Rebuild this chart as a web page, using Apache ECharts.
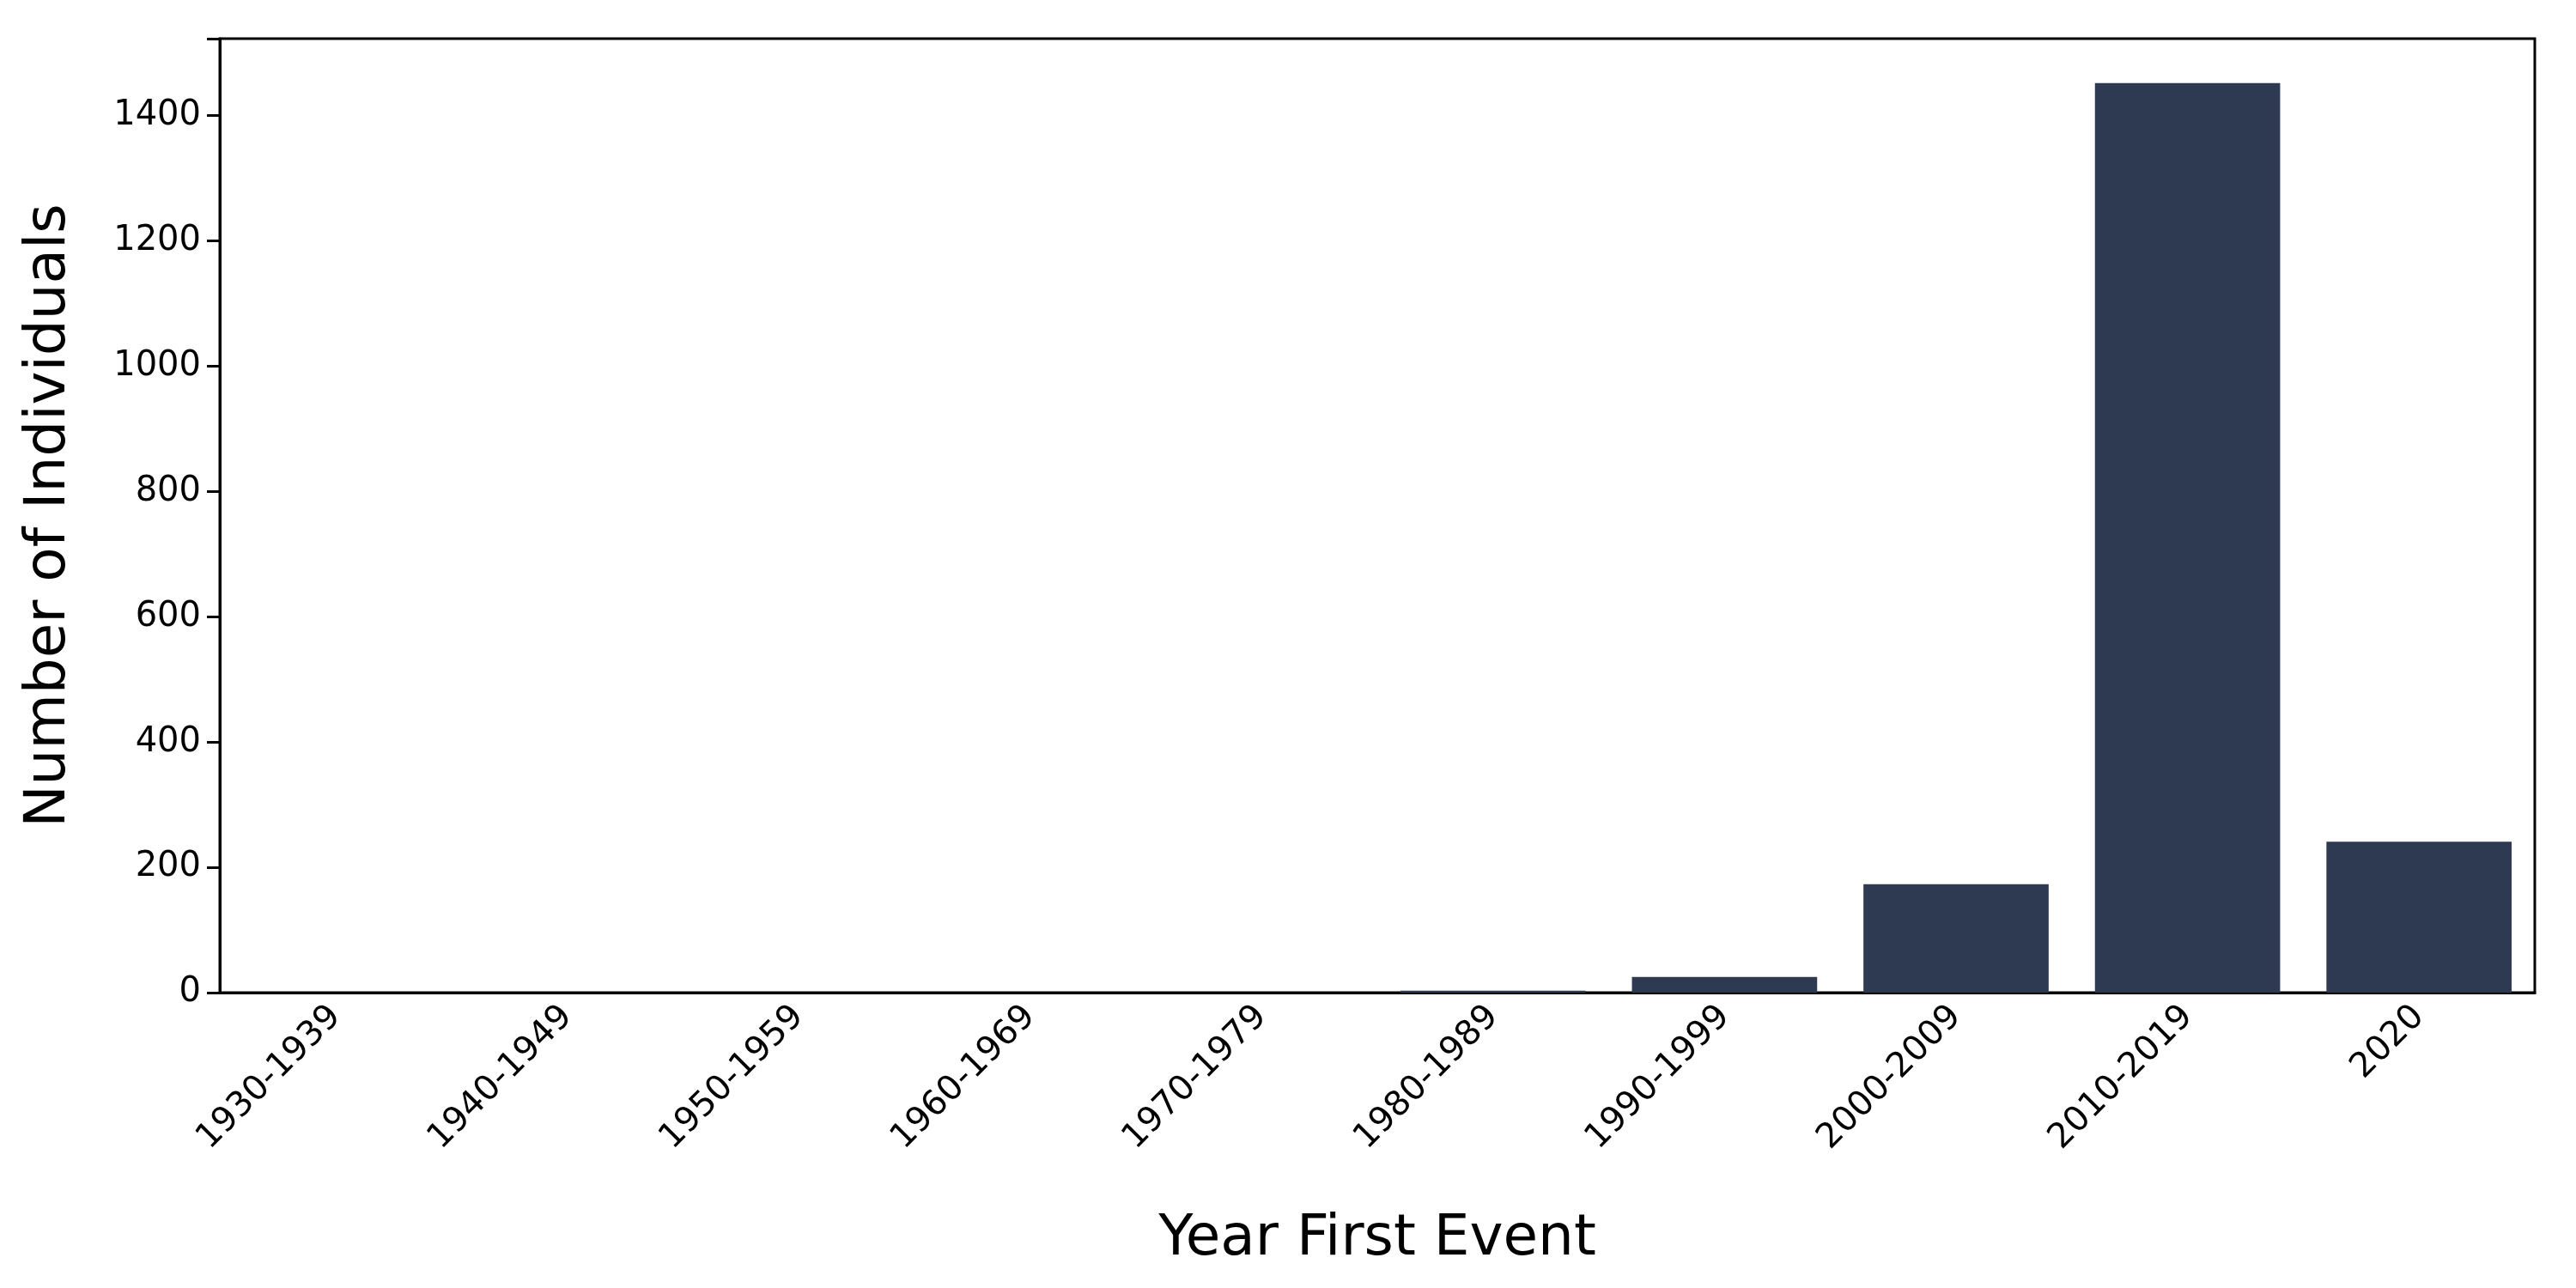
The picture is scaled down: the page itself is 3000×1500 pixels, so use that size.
<!DOCTYPE html><html><head><meta charset="utf-8"><script src="https://cdn.jsdelivr.net/npm/echarts@6/dist/echarts.min.js"></script></head><body style="margin:0"><div id="c" style="width:3000px;height:1500px"></div><script>
const categories=['1930-1939','1940-1949','1950-1959','1960-1969','1970-1979','1980-1989','1990-1999','2000-2009','2010-2019','2020'];
const values=[0,0,0,0,0,3,25,173,1452,241];
const yTicks=[0,200,400,600,800,1000,1200,1400];
const ch=echarts.init(document.getElementById('c'));
const f='DejaVu Sans';
ch.setOption({animation:false,
grid:{left:256,right:48,top:45,bottom:344,show:true,borderColor:'#000',borderWidth:3},
xAxis:{type:'category',data:categories,name:'Year First Event',nameLocation:'middle',nameGap:255,nameTextStyle:{fontFamily:f,fontSize:66,color:'#000'},
axisLine:{lineStyle:{color:'#000',width:3}},axisTick:{alignWithLabel:true,length:15,lineStyle:{color:'#000',width:3}},
axisLabel:{rotate:45,fontFamily:f,fontSize:40,color:'#000',margin:22,interval:0}},
yAxis:{type:'value',min:0,max:1523,interval:200,name:'Number of Individuals',nameLocation:'middle',nameGap:165,nameTextStyle:{fontFamily:f,fontSize:66,color:'#000'},
axisLine:{show:true,lineStyle:{color:'#000',width:3}},axisTick:{show:true,length:15,lineStyle:{color:'#000',width:3}},splitLine:{show:false},
axisLabel:{fontFamily:f,fontSize:40,color:'#000',margin:22,formatter:v=>yTicks.includes(v)?String(v):''}},
series:[{type:'bar',data:values,barCategoryGap:'20%',itemStyle:{color:'#2e3a52'}}]});
</script></body></html>
